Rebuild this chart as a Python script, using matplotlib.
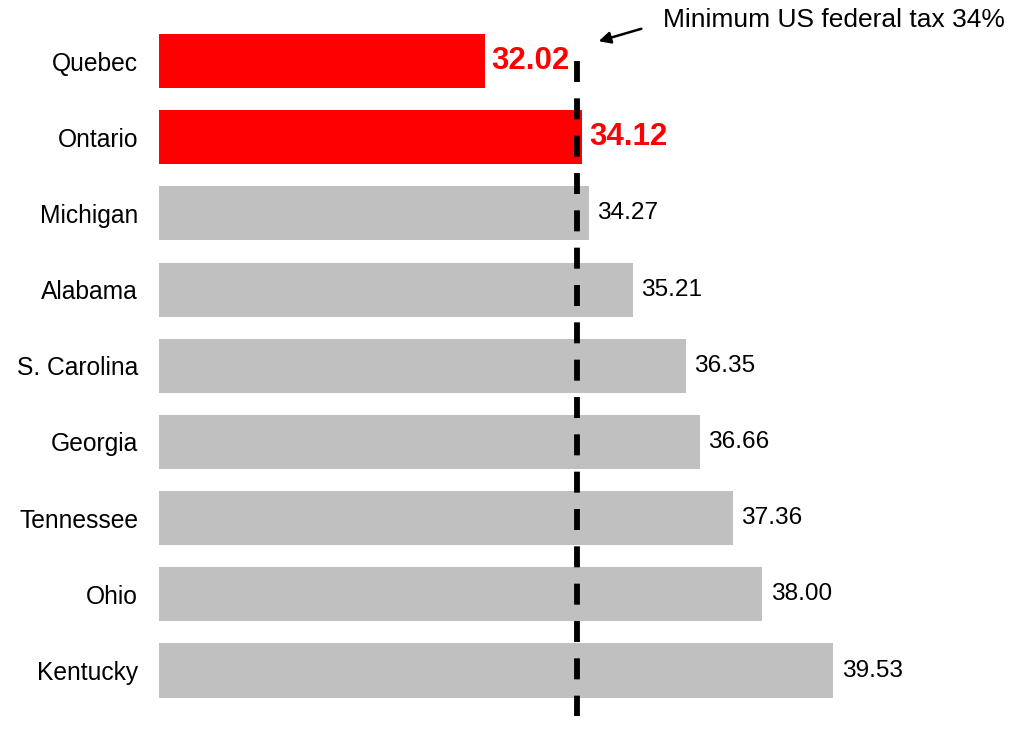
import matplotlib
matplotlib.use("Agg")
import matplotlib.pyplot as plt

regions = ["Quebec", "Ontario", "Michigan", "Alabama", "S. Carolina",
           "Georgia", "Tennessee", "Ohio", "Kentucky"]
values = [32.02, 34.12, 34.27, 35.21, 36.35, 36.66, 37.36, 38.00, 39.53]
highlight = [True, True, False, False, False, False, False, False, False]
threshold = 34.0
baseline = 25.0
annotation_text = "Minimum US federal tax 34%"

plt.rcParams['font.family'] = ['Liberation Sans', 'DejaVu Sans']

W, H = 1020, 731
fig = plt.figure(figsize=(W / 100, H / 100), dpi=100)
ax_left, ax_right = 159, 1000
ax_top, ax_bottom = 23, 708.6
ax = fig.add_axes([ax_left / W, 1 - ax_bottom / H, (ax_right - ax_left) / W, (ax_bottom - ax_top) / H])

y = list(range(len(regions)))
colors = ["#ff0000" if h else "#c0c0c0" for h in highlight]
ax.barh(y, [v - baseline for v in values], left=baseline, height=0.71, color=colors, zorder=1)

for yi, v, h in zip(y, values, highlight):
    if h:
        ax.annotate(f"{v:.2f}", (v, yi), xytext=(5, 0), textcoords="offset points",
                    ha="left", va="center", fontsize=22.5, fontweight="bold", color="#ff0000")
    else:
        ax.annotate(f"{v:.2f}", (v, yi), xytext=(6, 0), textcoords="offset points",
                    ha="left", va="center", fontsize=17.6, color="black")

ax.plot([threshold, threshold], [0.0, 8.6], color="black", lw=4.2,
        dashes=(3.6, 2.8), clip_on=False, zorder=3)

ax.set_xlim(baseline, baseline + (ax_right - ax_left) / 46.4)
ax.set_ylim(len(regions) - 0.5, -0.5)
ax.set_yticks(y)
ax.set_yticklabels(regions, fontsize=17.7)
ax.tick_params(axis="y", length=0, pad=15)
ax.set_xticks([])
for s in ax.spines.values():
    s.set_visible(False)

fig.text(663 / W, 1 - 20 / H, annotation_text, fontsize=19, ha="left", va="center")
fig.add_artist(matplotlib.patches.FancyArrowPatch(
    (644 / W, 1 - 28 / H), (596 / W, 1 - 42 / H), transform=fig.transFigure,
    arrowstyle="-|>,head_length=7,head_width=3.5", color="black", lw=1.8))

fig.savefig("out.png", dpi=100)
